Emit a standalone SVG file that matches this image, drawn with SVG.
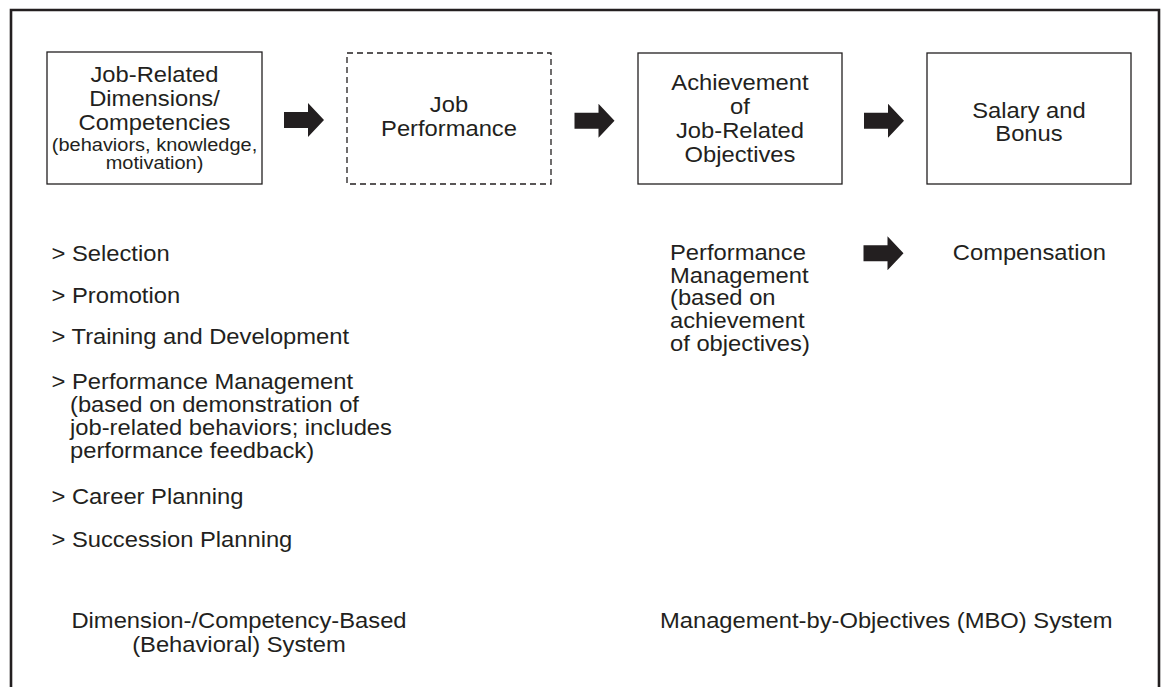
<svg xmlns="http://www.w3.org/2000/svg" width="1165" height="687" viewBox="0 0 1165 687">
<style>
  .box { fill: #ffffff; stroke: #231f20; stroke-width: 1.3; }
  .dash { stroke-dasharray: 6 4; }
  .t { font-family: "Liberation Sans", Arial, sans-serif; font-size: 22px; fill: #231f20; }
  .s { font-size: 18.5px; }
  .c { text-anchor: middle; }
  .arrow { fill: #231f20; }
</style>
<defs>
  <path id="arr" d="M0,-8 H24 V-17 L40,0 L24,17 V8 H0 Z"/>
</defs>
<rect x="0" y="0" width="1165" height="687" fill="#ffffff"/>
<path d="M11,690 V10 H1159 V690" fill="none" stroke="#231f20" stroke-width="2.6"/>

<g id="node-competencies">
  <rect class="box" x="47" y="52" width="215" height="132"/>
</g>
<g id="node-job-performance">
  <rect class="box dash" x="347" y="53" width="204" height="131"/>
</g>
<g id="node-objectives">
  <rect class="box" x="638" y="53" width="204" height="131"/>
</g>
<g id="node-salary">
  <rect class="box" x="927" y="53" width="204" height="131"/>
</g>

<g id="connectors" class="arrow">
  <use href="#arr" transform="translate(284,120)"/>
  <use href="#arr" transform="translate(574.5,120.7)"/>
  <use href="#arr" transform="translate(864,120.7)"/>
  <use href="#arr" transform="translate(863.5,253.3)"/>
</g>

<g id="texts" class="t" transform="scale(1.08 1)">
  <text class="c" x="143.06" y="82">Job-Related</text>
  <text class="c" x="143.06" y="106">Dimensions/</text>
  <text class="c" x="143.06" y="130">Competencies</text>
  <text class="c s" x="143.06" y="151.5">(behaviors, knowledge,</text>
  <text class="c s" x="143.06" y="169.5">motivation)</text>

  <text class="c" x="415.74" y="111.7">Job</text>
  <text class="c" x="415.74" y="135.7">Performance</text>

  <text class="c" x="685.19" y="90">Achievement</text>
  <text class="c" x="685.19" y="114">of</text>
  <text class="c" x="685.19" y="138">Job-Related</text>
  <text class="c" x="685.19" y="162">Objectives</text>

  <text class="c" x="952.78" y="118.3">Salary and</text>
  <text class="c" x="952.78" y="141">Bonus</text>

  <text x="47.69" y="260.7">&gt; Selection</text>
  <text x="47.69" y="303.3">&gt; Promotion</text>
  <text x="47.69" y="344">&gt; Training and Development</text>
  <text x="47.69" y="389.5">&gt; Performance Management</text>
  <text x="64.81" y="412.5">(based on demonstration of</text>
  <text x="64.81" y="435.5">job-related behaviors; includes</text>
  <text x="64.81" y="458.5">performance feedback)</text>
  <text x="47.69" y="504.5">&gt; Career Planning</text>
  <text x="47.69" y="547.5">&gt; Succession Planning</text>

  <text x="620.37" y="260">Performance</text>
  <text x="620.37" y="282.7">Management</text>
  <text x="620.37" y="305.5">(based on</text>
  <text x="620.37" y="328.2">achievement</text>
  <text x="620.37" y="351">of objectives)</text>

  <text x="882.22" y="260">Compensation</text>

  <text class="c" x="221.3" y="628.3">Dimension-/Competency-Based</text>
  <text class="c" x="221.3" y="652.3">(Behavioral) System</text>

  <text x="611.11" y="628.3">Management-by-Objectives (MBO) System</text>
</g>
</svg>
